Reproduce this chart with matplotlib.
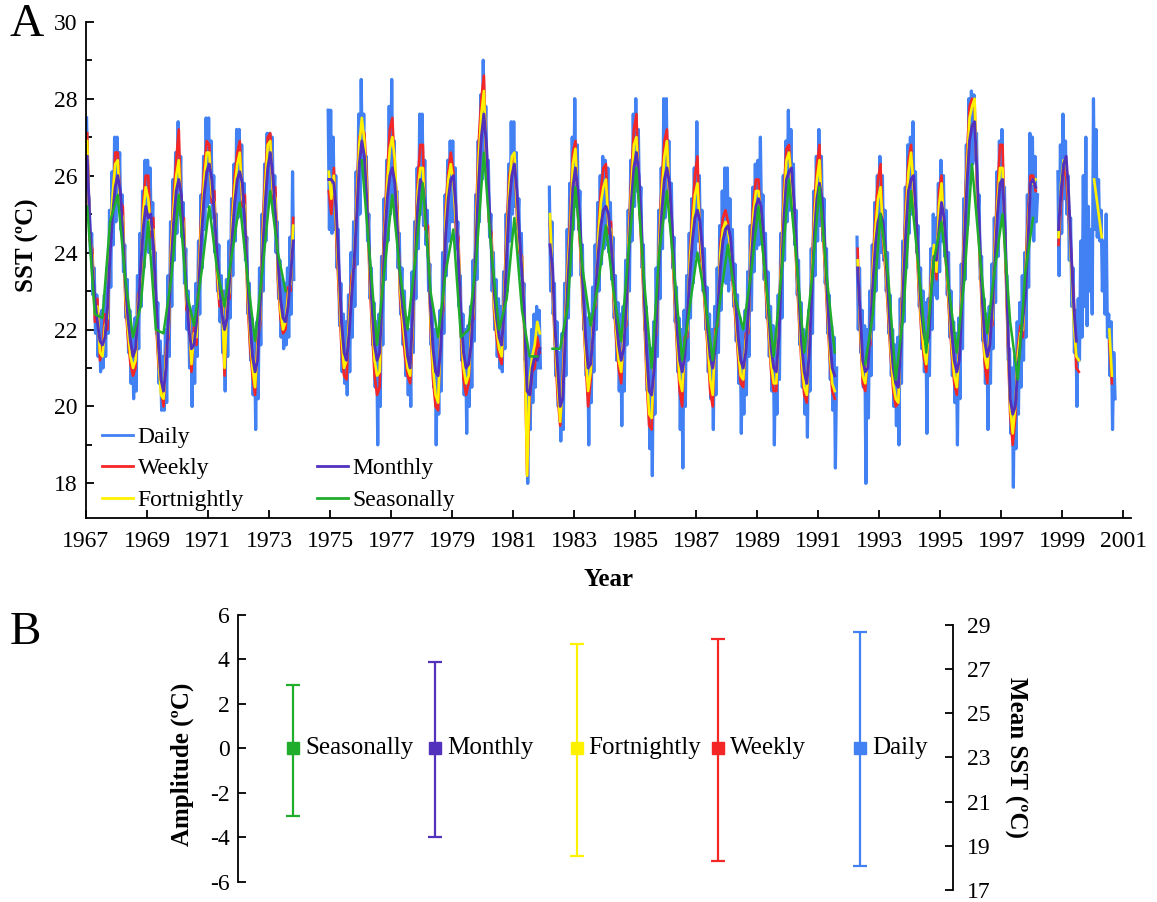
import numpy as np
import matplotlib.pyplot as plt
from matplotlib.lines import Line2D

OUT_FILE = "out.png"

NA = np.nan
YEAR0 = 1967

# sea surface temperature, one row per year (1967-2000), gaps are NA
DAILY = [  # two values per month
    [27.5, 25.6, 25.4, 24.0, 24.5, 22.9, 23.6, 21.9, 22.9, 21.3, 22.4, 20.9, 22.5, 21.0, 22.9, 21.3, 23.6, 21.9, 25.1, 23.1, 26.1, 24.2, 27.0, 24.8],
    [27.0, 25.2, 26.6, 24.6, 25.5, 23.5, 24.2, 22.3, 23.3, 21.4, 22.5, 20.6, 22.0, 20.2, 22.3, 20.4, 23.4, 21.5, 24.5, 22.6, 25.6, 23.6, 26.4, 24.1],
    [26.4, 24.0, 26.2, 24.1, 25.3, 23.1, 24.0, 21.9, 22.7, 20.6, 21.7, 19.9, 21.3, 19.9, 22.0, 20.1, 23.4, 21.3, 24.8, 22.6, 25.9, 23.8, 26.6, 24.5],
    [27.4, 25.0, 26.5, 24.4, 25.3, 23.2, 24.1, 22.0, 23.0, 21.0, 22.5, 20.0, 22.6, 20.6, 23.2, 21.3, 24.3, 22.4, 25.5, 23.6, 26.5, 24.6, 27.5, 25.2],
    [27.5, 25.3, 26.9, 24.9, 26.0, 24.0, 25.0, 23.0, 24.2, 22.2, 23.4, 21.4, 23.0, 20.4, 23.3, 21.3, 24.3, 22.3, 25.4, 23.4, 26.3, 24.3, 27.2, 24.9],
    [27.2, 25.1, 26.8, 24.8, 25.8, 23.8, 24.4, 22.4, 23.2, 21.2, 22.3, 20.3, 21.9, 19.4, 22.2, 20.2, 23.6, 21.6, 25.0, 23.0, 26.3, 24.3, 27.1, 25.2],
    [27.1, 25.6, 27.0, 25.0, 26.0, 24.0, 24.8, 22.8, 23.8, 21.8, 23.3, 21.5, 23.2, 21.6, 23.6, 21.8, 24.4, 22.4, 26.1, 23.3, NA, NA, NA, NA],
    [NA] * 22 + [27.7, 24.6],
    [27.7, 24.5, 27.0, 24.6, 26.0, 23.6, 24.6, 22.1, 23.2, 20.9, 22.4, 20.6, 22.2, 20.3, 22.9, 20.9, 24.0, 21.8, 24.8, 22.6, 26.1, 23.7, 27.6, 25.0],
    [28.5, 26.1, 27.6, 25.6, 26.5, 24.3, 25.0, 22.8, 23.6, 21.6, 22.7, 20.5, 22.2, 19.0, 22.4, 20.0, 23.9, 21.6, 25.4, 23.3, 26.4, 24.3, 27.8, 25.0],
    [28.5, 25.4, 26.9, 24.8, 25.6, 23.6, 24.5, 22.4, 23.6, 21.6, 23.0, 20.8, 22.3, 20.3, 22.0, 20.0, 23.5, 21.4, 24.8, 22.8, 26.2, 24.1, 27.6, 25.0],
    [27.6, 24.7, 26.4, 24.2, 25.1, 23.0, 23.7, 21.6, 22.6, 20.5, 22.0, 19.0, 21.9, 19.8, 22.5, 20.4, 24.0, 21.9, 25.5, 23.4, 26.4, 24.3, 26.9, 24.8],
    [26.9, 24.8, 26.2, 24.1, 24.8, 22.6, 23.4, 21.2, 22.4, 20.3, 22.0, 19.3, 22.1, 20.0, 22.6, 20.5, 23.8, 21.7, 25.5, 23.3, 26.9, 24.8, 28.1, 25.9],
    [29.0, 26.6, 27.8, 25.8, 26.4, 24.4, 25.0, 23.0, 24.0, 22.0, 23.3, 21.3, 22.8, 21.0, 22.6, 20.9, 23.5, 21.5, 25.0, 23.0, 26.3, 24.3, 27.4, 25.0],
    [27.4, 25.2, 26.6, 24.6, 25.4, 23.4, 24.5, 22.5, 23.2, 21.2, 21.6, 18.0, 21.4, 19.4, 22.0, 20.1, 22.4, 20.5, 22.6, 21.0, 22.5, 21.0, NA, NA],
    [NA, NA, NA, NA, 25.7, 23.0, 24.8, 22.4, 23.2, 20.8, 22.2, 20.0, 21.4, 19.1, 21.9, 19.4, 23.2, 20.8, 24.6, 22.3, 25.8, 23.4, 27.0, 24.6],
    [28.0, 25.2, 26.8, 24.6, 25.6, 23.4, 24.2, 22.0, 23.0, 20.8, 22.3, 19.0, 22.4, 20.1, 23.1, 20.9, 24.2, 22.0, 25.3, 23.0, 26.0, 23.7, 26.5, 24.1],
    [26.4, 24.2, 26.2, 24.0, 25.3, 23.3, 24.4, 22.3, 23.4, 21.2, 22.7, 20.4, 22.4, 19.5, 22.6, 20.4, 23.8, 21.6, 25.1, 23.0, 26.4, 24.3, 27.6, 25.2],
    [28.0, 25.6, 27.2, 25.0, 25.7, 23.6, 24.2, 22.0, 22.6, 20.4, 21.6, 18.9, 21.5, 18.2, 22.2, 19.8, 23.6, 21.3, 25.1, 22.8, 26.2, 24.1, 28.0, 24.9],
    [28.0, 25.2, 26.9, 24.8, 25.8, 23.6, 24.4, 22.2, 23.1, 20.9, 22.3, 19.4, 22.0, 18.4, 22.5, 20.0, 23.4, 21.2, 24.5, 22.3, 25.4, 23.2, 26.2, 23.9],
    [27.4, 24.3, 26.0, 23.8, 25.1, 23.0, 24.1, 22.0, 23.1, 20.9, 22.4, 20.2, 22.0, 19.4, 22.6, 20.3, 23.6, 21.4, 24.7, 22.5, 25.6, 23.3, 26.2, 23.2],
    [26.2, 23.0, 25.4, 23.3, 24.6, 22.6, 23.7, 21.7, 22.9, 20.6, 22.3, 19.3, 22.0, 19.8, 22.5, 20.3, 23.5, 21.3, 24.7, 22.5, 25.7, 23.5, 26.3, 24.1],
    [26.4, 24.2, 27.0, 24.5, 25.5, 23.3, 24.5, 22.3, 23.5, 21.3, 22.6, 20.4, 22.1, 19.0, 22.0, 19.8, 22.9, 20.7, 24.5, 22.3, 26.0, 23.8, 26.9, 24.8],
    [27.7, 25.1, 27.2, 25.1, 26.3, 24.2, 25.1, 22.9, 23.8, 21.6, 22.7, 20.5, 22.0, 19.8, 21.7, 19.2, 22.5, 20.4, 24.1, 21.9, 25.6, 23.4, 26.5, 24.3],
    [27.2, 24.7, 26.5, 24.3, 25.4, 23.2, 24.1, 21.9, 22.9, 20.7, 22.1, 19.9, 21.8, 18.4, 21.0] + [NA] * 9,
    [NA] * 6 + [24.4, 22.0, 23.6, 21.4, 22.5, 20.5, 22.1, 18.0, 22.0, 19.7, 23.0, 20.8, 24.2, 22.0, 25.3, 23.0, 26.0, 23.6],
    [26.5, 24.0, 26.0, 23.8, 25.1, 23.0, 24.0, 21.9, 22.9, 20.8, 22.0, 20.0, 21.6, 19.5, 21.8, 19.0, 22.8, 20.6, 24.3, 22.2, 25.7, 23.6, 26.8, 24.5],
    [27.0, 25.0, 27.4, 25.0, 26.1, 24.0, 24.7, 22.6, 23.6, 21.5, 23.0, 20.9, 22.7, 19.3, 22.8, 20.8, 24.1, 22.0, 25.0, 22.9, 24.9, 22.8, 25.8, 23.5],
    [26.4, 24.3, 26.0, 23.9, 25.1, 22.9, 24.0, 21.8, 23.0, 20.8, 22.2, 20.1, 21.9, 19.0, 22.3, 20.2, 23.7, 21.5, 25.4, 23.3, 26.8, 24.7, 28.0, 25.8],
    [28.2, 26.3, 28.1, 26.4, 27.1, 24.9, 25.5, 23.3, 23.9, 21.7, 22.8, 20.6, 22.4, 19.4, 22.6, 20.6, 23.7, 21.5, 24.9, 22.7, 26.1, 23.9, 26.9, 24.7],
    [27.2, 24.8, 25.7, 23.5, 23.4, 21.2, 21.5, 19.3, 21.0, 17.9, 21.3, 18.9, 22.2, 19.8, 22.7, 20.5, 23.4, 21.2, 24.0, 21.8, 25.5, 23.1, 27.1, 24.6],
    [27.0, 24.3, 26.5, 24.8, 25.5] + [NA] * 15 + [26.1, 23.4, 26.8, 24.5],
    [27.6, 25.4, 26.9, 25.0, 26.0, 23.8, 24.9, 22.6, 23.6, 21.4, 22.5, 20.0, 22.8, 21.2, 24.3, 21.8, 26.0, 22.6, 27.0, 22.1, 25.2, 23.0, 24.6, 22.4],
    [28.0, 24.6, 27.2, 24.4, 25.9, 24.3, 25.1, 23.0, 24.3, 22.4, 25.0, 21.8, 22.4, 20.8, 22.2, 19.4, 21.4, 20.2] + [NA] * 6,
]

WEEKLY = [  # one value per month
    [27.1, 24.3, 24.1, 22.2, 22.8, 21.2, 21.5, 22.4, 22.0, 24.6, 25.2, 26.6],
    [26.6, 25.3, 25.2, 22.7, 21.8, 21.1, 20.8, 21.0, 22.9, 23.1, 25.3, 26.0],
    [26.0, 24.4, 24.9, 22.3, 21.1, 20.5, 20.0, 21.5, 21.8, 24.3, 25.5, 26.4],
    [27.2, 24.9, 24.9, 22.5, 22.5, 20.9, 22.1, 21.6, 23.8, 25.2, 26.2, 26.9],
    [26.8, 25.3, 25.6, 23.5, 22.6, 23.0, 20.8, 22.9, 22.8, 25.0, 26.0, 26.6],
    [26.9, 25.2, 25.5, 22.8, 21.6, 20.8, 20.3, 21.8, 22.1, 24.7, 26.0, 27.0],
    [27.1, 25.4, 25.7, 23.3, 22.3, 21.9, 22.0, 23.1, 23.0, 24.9, NA, NA],
    [NA] * 11 + [25.6],
    [25.0, 26.2, 24.3, 22.9, 21.5, 20.8, 20.7, 22.4, 23.4, 23.6, 25.6, 27.0],
    [27.2, 27.1, 25.9, 23.4, 22.0, 20.8, 20.3, 20.5, 23.4, 24.9, 26.1, 27.2],
    [27.5, 26.1, 25.2, 22.9, 22.0, 21.3, 20.8, 20.6, 21.9, 24.3, 25.9, 26.8],
    [26.8, 24.6, 24.7, 22.1, 20.7, 20.0, 19.9, 22.1, 22.5, 25.2, 26.1, 26.6],
    [26.1, 24.6, 24.4, 21.9, 20.7, 20.3, 20.6, 22.1, 22.3, 25.1, 26.9, 28.0],
    [28.6, 26.2, 24.8, 24.5, 22.5, 21.8, 21.3, 21.1, 23.0, 24.7, 26.0, 26.4],
    [26.5, 25.0, 24.0, 23.9, 21.7, 18.2, 20.2, 20.9, 21.0, 21.8, 21.4, NA],
    [NA, NA, 24.8, 23.1, 21.5, 20.3, 19.5, 20.8, 22.3, 23.8, 25.0, 26.6],
    [26.9, 25.0, 24.0, 22.5, 21.2, 20.0, 20.7, 22.4, 22.6, 24.6, 25.6, 26.2],
    [26.3, 24.5, 24.8, 22.8, 21.8, 21.0, 20.6, 22.0, 22.1, 24.6, 26.0, 27.2],
    [27.6, 25.4, 24.1, 22.5, 20.7, 19.5, 19.4, 21.5, 22.0, 24.5, 25.9, 26.9],
    [27.2, 25.2, 24.2, 22.8, 21.5, 20.4, 20.0, 21.8, 21.8, 24.0, 25.0, 26.0],
    [26.5, 24.3, 23.5, 22.5, 21.5, 20.4, 20.0, 22.0, 22.1, 24.2, 24.9, 25.1],
    [24.8, 24.0, 23.1, 22.2, 21.3, 20.6, 20.5, 21.9, 21.9, 24.2, 25.3, 25.9],
    [25.9, 24.7, 23.9, 22.9, 21.9, 20.9, 20.4, 20.4, 22.3, 24.0, 25.6, 26.7],
    [26.8, 25.7, 24.8, 23.5, 22.2, 21.0, 20.3, 20.1, 21.9, 23.6, 25.2, 26.3],
    [26.8, 24.8, 23.8, 22.5, 21.3, 20.4, 20.2] + [NA] * 5,
    [NA, NA, NA, 24.1, 21.9, 20.6, 20.4, 21.5, 21.6, 23.8, 24.9, 25.9],
    [26.3, 24.3, 23.5, 22.4, 21.3, 20.4, 20.0, 20.1, 22.1, 23.8, 25.3, 26.4],
    [26.8, 25.5, 24.5, 23.1, 22.0, 21.3, 20.9, 22.3, 23.5, 24.0, 23.3, 25.6],
    [26.0, 24.4, 23.5, 22.4, 21.4, 20.6, 20.3, 21.7, 23.1, 24.8, 26.5, 27.8],
    [28.0, 27.9, 25.5, 23.9, 22.3, 21.1, 20.6, 22.1, 22.1, 24.4, 25.6, 26.8],
    [26.8, 24.1, 21.8, 19.8, 19.0, 19.7, 21.5, 22.1, 21.8, 23.5, 25.0, 26.0],
    [26.0, 25.6] + [NA] * 8 + [24.2, 25.3],
    [26.2, 26.0, 25.0, 23.9, 22.8, 21.0, 20.9] + [NA] * 5,
    [NA] * 6 + [21.7, 20.6] + [NA] * 4,
]

FORTNIGHTLY = [  # one value per month
    [26.9, 24.5, 23.9, 22.4, 22.6, 21.4, 21.3, 22.1, 22.3, 24.4, 25.5, 26.3],
    [26.4, 25.1, 24.9, 22.9, 22.0, 21.3, 21.0, 21.2, 22.7, 23.3, 25.0, 25.7],
    [25.4, 24.6, 24.6, 22.5, 21.3, 20.3, 20.2, 21.3, 22.0, 24.1, 25.2, 26.0],
    [26.4, 25.1, 24.7, 22.7, 22.3, 21.1, 21.9, 21.8, 23.6, 24.9, 25.9, 26.6],
    [26.6, 25.5, 25.3, 23.7, 22.8, 22.8, 21.0, 22.7, 23.0, 24.8, 25.7, 26.3],
    [26.6, 25.4, 25.2, 23.0, 21.9, 21.0, 20.5, 21.6, 22.3, 24.4, 25.7, 26.8],
    [26.9, 25.6, 25.4, 23.5, 22.5, 22.0, 22.2, 22.9, 23.2, 24.7, NA, NA],
    [NA] * 11 + [26.1],
    [25.4, 26.0, 24.6, 23.2, 21.8, 21.0, 21.2, 22.2, 23.1, 23.9, 25.3, 26.8],
    [27.5, 26.9, 25.6, 23.6, 22.3, 21.2, 20.8, 20.9, 23.1, 24.6, 25.8, 26.7],
    [27.0, 26.4, 24.9, 23.1, 22.3, 21.6, 21.0, 20.8, 22.1, 24.1, 25.6, 26.2],
    [26.2, 24.8, 24.4, 22.3, 21.0, 20.3, 20.1, 21.9, 22.7, 24.9, 25.9, 26.3],
    [25.8, 24.8, 24.2, 22.1, 21.0, 20.6, 20.8, 21.9, 22.5, 24.8, 26.5, 27.6],
    [28.2, 26.4, 25.0, 24.3, 22.7, 22.0, 21.5, 21.3, 22.8, 24.4, 25.7, 26.5],
    [26.6, 25.2, 24.1, 23.8, 21.9, 18.2, 20.7, 21.3, 21.6, 22.2, 21.9, NA],
    [NA, NA, 25.0, 23.3, 21.7, 20.6, 19.6, 20.6, 22.1, 23.6, 24.7, 26.3],
    [26.7, 25.2, 24.2, 22.7, 21.4, 20.4, 20.9, 22.2, 22.8, 24.4, 25.3, 25.7],
    [25.9, 24.7, 24.6, 23.0, 22.0, 21.2, 20.9, 21.8, 22.3, 24.4, 25.7, 26.8],
    [27.0, 25.6, 24.3, 22.7, 21.0, 19.8, 19.7, 21.3, 22.2, 24.3, 25.6, 26.5],
    [26.9, 25.4, 24.4, 23.0, 21.7, 20.7, 20.4, 21.6, 22.0, 23.8, 24.7, 25.5],
    [25.8, 24.5, 23.7, 22.7, 21.7, 20.7, 20.3, 21.8, 22.3, 24.0, 24.6, 24.8],
    [24.6, 24.1, 23.3, 22.4, 21.5, 20.8, 20.7, 21.7, 22.1, 24.0, 25.0, 25.6],
    [25.6, 24.9, 24.1, 23.1, 22.1, 21.1, 20.6, 20.6, 22.1, 23.8, 25.3, 26.4],
    [26.6, 25.9, 25.0, 23.7, 22.4, 21.2, 20.5, 20.3, 21.7, 23.4, 24.9, 25.9],
    [26.4, 25.0, 24.0, 22.7, 21.5, 20.6, 20.4] + [NA] * 5,
    [NA, NA, NA, 23.8, 22.1, 20.8, 20.6, 21.3, 21.8, 23.6, 24.6, 25.4],
    [25.7, 24.5, 23.7, 22.6, 21.5, 20.6, 20.2, 20.1, 21.9, 23.6, 25.0, 26.1],
    [26.6, 25.7, 24.7, 23.3, 22.2, 21.5, 21.1, 22.1, 23.3, 24.2, 23.5, 25.2],
    [25.8, 24.6, 23.7, 22.6, 21.6, 20.8, 20.5, 21.5, 22.9, 24.6, 26.2, 27.5],
    [27.8, 28.0, 25.7, 24.1, 22.5, 21.3, 21.0, 21.9, 22.3, 24.2, 25.3, 26.2],
    [26.2, 24.3, 22.0, 20.0, 19.3, 20.0, 21.3, 21.9, 22.0, 23.3, 24.7, 25.8],
    [25.8, 25.9] + [NA] * 8 + [24.4, 25.8],
    [26.4, 26.4, 25.3, 23.6, 22.2, 21.3, 21.2] + [NA] * 5,
    [25.9, 25.4, 24.9, 24.4, NA, NA, 22.0, 20.8] + [NA] * 4,
]

MONTHLY = [
    [26.5, 24.8, 23.6, 22.8, 22.2, 21.7, 21.6, 21.8, 22.6, 24.0, 25.0, 25.7],
    [26.0, 25.6, 24.5, 23.2, 22.3, 21.7, 21.3, 21.5, 22.4, 23.6, 24.6, 25.2],
    [24.9, 25.0, 24.2, 22.9, 21.6, 20.7, 20.4, 21.0, 22.3, 23.7, 24.8, 25.6],
    [25.9, 25.5, 24.3, 23.0, 22.0, 21.5, 21.6, 22.2, 23.3, 24.5, 25.5, 26.1],
    [26.3, 25.9, 25.0, 24.0, 23.2, 22.4, 22.0, 22.3, 23.3, 24.4, 25.3, 25.9],
    [26.1, 25.8, 24.8, 23.4, 22.2, 21.3, 20.9, 21.2, 22.6, 24.0, 25.3, 26.2],
    [26.6, 26.0, 25.0, 23.8, 22.8, 22.3, 22.2, 22.6, 23.4, 24.3, NA, NA],
    [NA] * 11 + [25.9],
    [25.9, 25.8, 25.0, 23.6, 22.2, 21.4, 21.2, 21.9, 22.9, 23.8, 25.0, 26.3],
    [26.9, 26.5, 25.3, 23.9, 22.6, 21.6, 21.2, 21.4, 22.8, 24.4, 25.4, 26.0],
    [26.2, 25.8, 24.6, 23.4, 22.6, 22.0, 21.3, 21.0, 22.4, 23.8, 25.2, 25.9],
    [25.7, 25.2, 24.0, 22.6, 21.5, 20.9, 20.8, 21.5, 23.0, 24.5, 25.4, 25.9],
    [26.0, 25.2, 23.8, 22.4, 21.4, 21.0, 21.1, 21.6, 22.8, 24.4, 25.9, 27.0],
    [27.6, 26.8, 25.4, 24.0, 23.0, 22.3, 21.8, 21.6, 22.5, 24.0, 25.3, 26.0],
    [26.3, 25.6, 24.4, 23.5, 22.2, 20.4, 20.3, 21.0, 21.3, 21.2, 21.5, NA],
    [NA, NA, 24.2, 23.6, 22.0, 21.0, 20.0, 20.2, 21.8, 23.2, 24.3, 25.7],
    [26.2, 25.6, 24.5, 23.0, 21.8, 21.0, 21.1, 21.9, 23.0, 24.0, 24.7, 25.1],
    [25.2, 25.0, 24.3, 23.3, 22.3, 21.6, 21.2, 21.5, 22.6, 24.0, 25.3, 26.2],
    [26.6, 26.0, 24.6, 23.0, 21.4, 20.4, 20.3, 21.0, 22.4, 23.9, 25.1, 25.9],
    [26.2, 25.8, 24.7, 23.3, 22.0, 21.2, 20.9, 21.3, 22.3, 23.4, 24.3, 24.9],
    [25.1, 24.8, 24.0, 23.0, 22.0, 21.3, 21.0, 21.5, 22.5, 23.6, 24.3, 24.6],
    [24.7, 24.4, 23.6, 22.7, 21.8, 21.2, 21.0, 21.4, 22.4, 23.6, 24.6, 25.2],
    [25.4, 25.2, 24.4, 23.4, 22.4, 21.5, 21.0, 20.9, 21.8, 23.4, 24.9, 25.9],
    [26.1, 26.2, 25.3, 24.0, 22.7, 21.6, 20.9, 20.6, 21.4, 23.0, 24.5, 25.4],
    [25.8, 25.4, 24.3, 23.0, 21.8, 21.0, 20.8] + [NA] * 5,
    [NA, NA, NA, 23.6, 22.4, 21.2, 20.9, 21.0, 22.0, 23.2, 24.2, 24.8],
    [25.0, 24.8, 24.0, 22.9, 21.8, 21.0, 20.6, 20.5, 21.6, 23.2, 24.6, 25.6],
    [25.9, 26.0, 25.0, 23.6, 22.5, 21.9, 21.6, 21.8, 23.0, 23.9, 23.8, 24.6],
    [25.3, 24.9, 24.0, 22.9, 21.9, 21.2, 20.9, 21.2, 22.6, 24.3, 25.8, 26.9],
    [27.3, 27.4, 26.0, 24.4, 22.8, 21.7, 21.3, 21.6, 22.6, 23.8, 25.0, 25.8],
    [25.9, 24.6, 22.3, 20.2, 19.8, 20.0, 21.0, 21.6, 22.3, 22.9, 24.3, 25.8],
    [25.9, 25.7] + [NA] * 8 + [24.6, 25.6],
    [26.3, 26.5, 25.5, 24.0, 22.6, 21.7] + [NA] * 6,
    [NA] * 12,
]

SEASONAL = [  # DJF, MAM, JJA, SON
    [25.2, 22.4, 22.3, 24.8],
    [25.5, 23.3, 21.8, 22.6],
    [24.8, 22.0, 21.9, 23.3],
    [25.5, 23.0, 22.1, 23.5],
    [25.2, 23.6, 22.6, 24.0],
    [25.3, 23.4, 21.7, 23.6],
    [25.6, 24.0, 23.0, NA],
    [NA, NA, NA, NA],
    [NA, NA, NA, NA],
    [26.4, 24.0, 21.6, 23.6],
    [25.5, 23.5, 22.0, 23.8],
    [25.8, 23.0, 21.8, 23.5],
    [24.6, 21.8, 22.0, 23.8],
    [26.6, 24.0, 22.0, 22.8],
    [24.9, 22.5, 21.3, 21.3],
    [NA, 21.5, 21.5, 22.6],
    [25.7, 23.5, 22.1, 23.2],
    [24.7, 23.0, 21.7, 24.1],
    [26.2, 23.3, 21.0, 24.0],
    [25.6, 23.4, 21.2, 22.6],
    [24.0, 22.8, 21.2, 22.8],
    [24.2, 22.8, 22.0, 23.4],
    [25.2, 23.2, 21.3, 23.4],
    [25.9, 23.8, 21.4, 23.3],
    [25.7, 23.3, 21.4, NA],
    [NA, NA, 21.1, 22.4],
    [25.0, 23.4, 20.7, 22.4],
    [25.6, 23.6, 21.4, 23.8],
    [24.8, 23.0, 21.4, 23.3],
    [26.3, 24.0, 21.9, 23.6],
    [25.0, 22.2, 20.7, 23.5],
    [24.9, NA, NA, NA],
    [NA, NA, NA, NA],
    [NA, NA, NA, NA],
]

# amplitude around the mean for each sampling interval
AMP_NAMES = ["Seasonally", "Monthly", "Fortnightly", "Weekly", "Daily"]
AMP_UPPER = [2.85, 3.9, 4.7, 4.9, 5.25]
AMP_LOWER = [3.05, 4.0, 4.85, 5.05, 5.3]

C_DAILY = "#4281f4"
C_WEEKLY = "#f42626"
C_FORT = "#fff200"
C_MONTH = "#5231bd"
C_SEASON = "#21ad2c"

AMP_COLORS = [C_SEASON, C_MONTH, C_FORT, C_WEEKLY, C_DAILY]


def as_series(rows, per_year, offset=0.5):
    for row in rows:
        assert len(row) == per_year, (len(row), per_year)
    vals = np.array([v for row in rows for v in row], dtype=float)
    t = YEAR0 + (np.arange(vals.size) + offset) / per_year
    return t, vals


def main():
    plt.rcParams["font.family"] = ["Liberation Serif", "DejaVu Serif"]
    plt.rcParams["font.size"] = 17
    plt.rcParams["axes.linewidth"] = 1.3
    plt.rcParams["axes.unicode_minus"] = False

    fig = plt.figure(figsize=(11.57, 9.02), dpi=100)

    # panel A: SST time series
    ax = fig.add_axes([0.0743, 0.4257, 0.9032, 0.5502])

    t_d, v_d = as_series(DAILY, 24)
    t_w, v_w = as_series(WEEKLY, 12)
    t_f, v_f = as_series(FORTNIGHTLY, 12)
    t_m, v_m = as_series(MONTHLY, 12)
    t_s, v_s = as_series(SEASONAL, 4, offset=0.16)

    ax.plot(t_d, v_d, color=C_DAILY, lw=2.3)
    ax.plot(t_w, v_w, color=C_WEEKLY, lw=1.9)
    ax.plot(t_f, v_f, color=C_FORT, lw=1.9)
    ax.plot(t_m, v_m, color=C_MONTH, lw=2.1)
    ax.plot(t_s, v_s, color=C_SEASON, lw=1.8)

    ax.set_xlim(1967, 2001.25)
    ax.set_ylim(17.1, 30)
    ax.set_xticks(np.arange(1967, 2002, 2))
    ax.set_yticks(np.arange(18, 31, 2))
    ax.set_yticks(np.arange(19, 30, 2), minor=True)
    ax.tick_params(axis="both", which="major", direction="in", length=6, width=1.3, labelsize=17)
    ax.tick_params(axis="y", which="minor", direction="in", length=4, width=1.3)
    ax.tick_params(axis="x", pad=9)
    ax.tick_params(axis="y", pad=6)
    ax.spines["top"].set_visible(False)
    ax.spines["right"].set_visible(False)
    ax.set_xlabel("Year", fontsize=18, fontweight="bold", labelpad=12)
    ax.set_ylabel("SST (ºC)", fontsize=18, fontweight="bold")
    ax.yaxis.set_label_coords(-0.045, 0.55)

    handles = [
        Line2D([], [], color=C_DAILY, lw=2),
        Line2D([], [], color=C_WEEKLY, lw=2),
        Line2D([], [], color=C_FORT, lw=2),
        Line2D([], [], color="none"),
        Line2D([], [], color=C_MONTH, lw=2),
        Line2D([], [], color=C_SEASON, lw=2),
    ]
    labels = ["Daily", "Weekly", "Fortnightly", "", "Monthly", "Seasonally"]
    ax.legend(handles, labels, ncols=2, loc="lower left", bbox_to_anchor=(0.011, 0.005),
              frameon=False, fontsize=17, handlelength=1.3, handletextpad=0.2,
              columnspacing=3.1, labelspacing=0.42, borderaxespad=0.0, borderpad=0.2)

    # panel B: amplitude of each series
    axb = fig.add_axes([0.2057, 0.0222, 0.618, 0.2960])
    axb.patch.set_alpha(0)
    x = np.arange(len(AMP_NAMES))
    for i, name in enumerate(AMP_NAMES):
        axb.errorbar(x[i], 0, yerr=[[AMP_LOWER[i]], [AMP_UPPER[i]]], fmt="s",
                     color=AMP_COLORS[i], ms=9, capsize=5, elinewidth=1.6, capthick=1.6)
        axb.text(x[i] + 0.085, 0, name, va="center", ha="left", fontsize=18)
    axb.set_xlim(-0.388, 4.656)
    axb.set_ylim(-6, 6)
    axb.set_yticks(np.arange(-6, 7, 2))
    axb.set_xticks([])
    for side in ["top", "right", "bottom"]:
        axb.spines[side].set_visible(False)
    axb.tick_params(axis="y", direction="in", length=6, width=1.3, labelsize=17, pad=6)
    axb.set_ylabel("Amplitude (ºC)", fontsize=18, fontweight="bold")
    axb.yaxis.set_label_coords(-0.062, 0.44)

    axr = fig.add_axes([0.2057, 0.0133, 0.618, 0.2938])
    axr.patch.set_alpha(0)
    axr.set_ylim(17, 29)
    axr.set_yticks(np.arange(17, 30, 2))
    axr.set_xticks([])
    for side in ["top", "left", "bottom"]:
        axr.spines[side].set_visible(False)
    axr.yaxis.tick_right()
    axr.yaxis.set_label_position("right")
    axr.tick_params(axis="y", direction="in", length=6, width=1.3, labelsize=17, pad=10)
    axr.set_ylabel("Mean SST (ºC)", fontsize=18, fontweight="bold", rotation=270, labelpad=26)

    fig.text(0.008, 0.973, "A", fontsize=34, va="center", ha="left")
    fig.text(0.008, 0.298, "B", fontsize=34, va="center", ha="left")

    fig.savefig(OUT_FILE, dpi=100)


if __name__ == "__main__":
    main()
